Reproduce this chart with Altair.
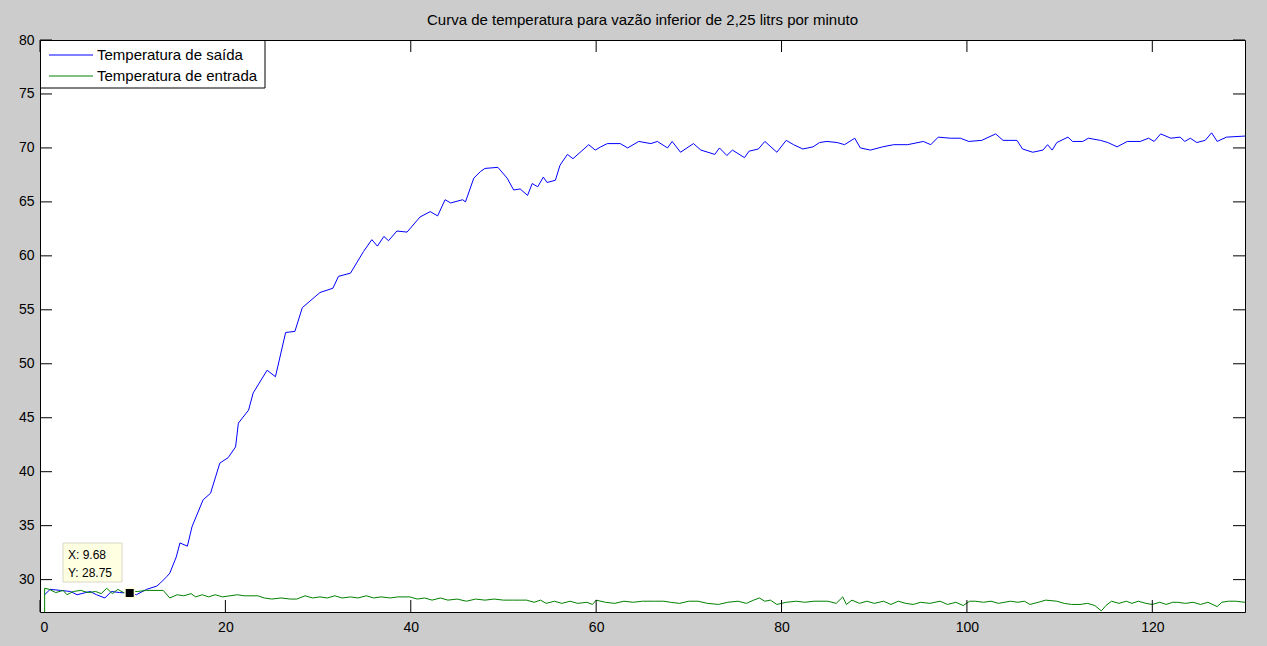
import altair as alt
import pandas as pd

# ---- text ----
title_text = "Curva de temperatura para vazão inferior de 2,25 litrs por minuto"
series_names = ["Temperatura de saída", "Temperatura de entrada"]
series_colors = ["#0000ff", "#008000"]

# ---- outlet temperature (time, value) ----
saida_t = [0.5, 1.1, 2.2, 3.3, 4.0, 5.4, 6.1, 7.0, 7.7, 8.6, 9.68, 10.4, 11.5, 12.6, 13.0,
           13.7, 14.0, 14.7, 15.1, 15.9, 16.4, 17.6, 18.4, 19.4, 20.3, 21.1, 21.4, 22.5, 23.0,
           24.5, 25.4, 26.5, 27.5, 28.3, 30.2, 31.6, 32.2, 33.5, 34.9, 35.8, 36.4, 37.1, 37.6,
           38.5, 39.6, 41.0, 42.1, 42.9, 43.7, 44.3, 45.6, 45.9, 46.8, 47.5, 48.0, 49.4, 50.4,
           51.1, 51.8, 52.6, 53.1, 53.7, 54.3, 54.7, 55.6, 56.1, 56.9, 57.5, 59.2, 59.9, 60.5,
           61.2, 62.6, 63.4, 64.6, 65.9, 66.6, 67.7, 68.2, 69.1, 70.5, 71.3, 72.8, 73.3, 74.1,
           74.7, 76.0, 76.5, 77.5, 78.2, 79.5, 80.5, 81.3, 82.3, 83.4, 84.1, 84.9, 86.0, 86.8,
           87.9, 88.5, 89.6, 90.9, 92.1, 93.6, 95.3, 96.1, 96.9, 98.2, 99.3, 100.2, 101.6, 103.1,
           103.9, 105.4, 106.0, 107.1, 108.2, 108.7, 109.2, 109.7, 110.9, 111.4, 112.5, 113.1,
           114.4, 115.2, 116.2, 117.3, 118.7, 119.6, 120.2, 120.9, 122.0, 123.0, 123.5, 124.1,
           124.8, 125.7, 126.4, 127.0, 128.0, 130.0]
saida_v = [28.6, 29.1, 29.0, 28.9, 28.6, 28.9, 28.6, 28.3, 28.9, 28.8, 28.75, 28.6, 29.1, 29.4, 29.7,
           30.3, 30.6, 32.1, 33.4, 33.1, 34.9, 37.4, 38.0, 40.8, 41.3, 42.3, 44.5, 45.7, 47.3,
           49.4, 48.8, 52.9, 53.0, 55.2, 56.6, 57.0, 58.1, 58.4, 60.4, 61.5, 60.9, 61.8, 61.4,
           62.3, 62.2, 63.6, 64.1, 63.7, 65.2, 64.9, 65.2, 65.0, 67.2, 67.8, 68.1, 68.2, 67.2,
           66.1, 66.2, 65.6, 66.7, 66.4, 67.3, 66.8, 67.0, 68.4, 69.4, 69.0, 70.3, 69.8, 70.1,
           70.4, 70.4, 70.0, 70.6, 70.4, 70.6, 70.0, 70.6, 69.6, 70.4, 69.8, 69.4, 70.0, 69.3,
           69.8, 69.1, 69.7, 69.9, 70.6, 69.6, 70.7, 70.3, 69.9, 70.1, 70.5, 70.6, 70.5, 70.3,
           70.9, 70.0, 69.8, 70.1, 70.3, 70.3, 70.6, 70.3, 71.0, 70.9, 70.9, 70.6, 70.7, 71.3,
           70.7, 70.7, 69.9, 69.6, 69.8, 70.3, 69.8, 70.5, 71.0, 70.6, 70.6, 70.9,
           70.7, 70.5, 70.1, 70.6, 70.6, 70.9, 70.6, 71.3, 70.9, 71.0, 70.6, 70.9,
           70.5, 70.7, 71.4, 70.6, 71.0, 71.1]

# ---- inlet temperature (time, value) ----
entrada_t = [0.5, 0.5, 1.0, 1.7, 2.5, 2.9, 3.6, 4.4, 5.2, 6.0, 6.6, 7.2, 7.8, 8.4, 9.0, 9.68,
             10.5, 11.5, 13.3, 14.0, 14.8, 15.5, 16.3, 16.8, 17.5, 18.2, 18.9, 19.7, 20.5, 21.3,
             22.0, 23.5, 24.2, 25.0, 26.0, 27.0, 27.7, 28.6, 29.4, 30.2, 31.0, 31.8, 32.6, 33.5,
             34.3, 35.2, 36.0, 36.8, 37.8, 38.6, 39.9, 40.7, 41.5, 42.3, 43.2, 44.0, 45.0, 46.0,
             47.0, 48.0, 49.0, 50.0, 51.0, 52.5, 53.3, 54.0, 54.6, 55.5, 56.3, 57.2, 58.0, 59.0,
             59.6, 60.0, 61.0, 62.0, 63.0, 64.0, 65.0, 66.3, 67.3, 68.0, 69.0, 70.0, 71.0, 72.0,
             73.2, 74.2, 75.3, 76.2, 77.0, 77.6, 78.2, 78.8, 79.5, 80.5, 81.6, 82.5, 83.5, 85.0,
             85.9, 86.6, 87.0, 87.6, 88.4, 89.2, 90.0, 91.0, 91.8, 92.6, 93.4, 94.2, 95.0, 96.0,
             97.1, 97.9, 98.8, 99.6, 100.3, 100.9, 101.8, 102.6, 103.4, 104.7, 105.5, 106.2,
             106.8, 107.7, 108.5, 109.7, 110.5, 111.3, 112.2, 113.0, 113.8, 114.5, 115.0, 115.6,
             116.4, 117.2, 117.8, 118.5, 119.3, 120.0, 120.8, 121.5, 122.2, 122.7, 123.6, 124.4,
             125.2, 126.0, 127.0, 127.5, 128.2, 129.0, 130.0]
entrada_v = [27.0, 29.2, 29.1, 28.8, 29.0, 28.6, 28.9, 29.0, 28.8, 28.9, 28.7, 29.2, 28.7, 29.1, 28.8, 28.9,
             28.9, 29.0, 29.0, 28.3, 28.6, 28.5, 28.7, 28.4, 28.6, 28.4, 28.6, 28.4, 28.5, 28.6,
             28.5, 28.5, 28.3, 28.2, 28.3, 28.2, 28.2, 28.5, 28.3, 28.4, 28.3, 28.5, 28.3, 28.4,
             28.3, 28.5, 28.3, 28.4, 28.3, 28.4, 28.4, 28.2, 28.3, 28.1, 28.3, 28.1, 28.2, 28.0,
             28.2, 28.1, 28.2, 28.1, 28.1, 28.1, 27.9, 28.1, 27.8, 28.0, 27.8, 28.0, 27.8, 27.9,
             27.7, 28.1, 27.9, 27.8, 28.0, 27.9, 28.0, 28.0, 28.0, 27.9, 27.8, 28.0, 28.0, 27.8,
             27.7, 27.9, 28.0, 27.8, 28.1, 28.3, 28.0, 28.1, 27.7, 27.9, 28.0, 27.9, 28.0, 28.0,
             27.8, 28.4, 27.7, 28.1, 27.8, 28.0, 27.8, 28.0, 27.7, 28.0, 27.8, 27.7, 27.9, 27.8,
             28.0, 27.7, 27.9, 27.6, 28.0, 28.0, 27.9, 28.0, 27.8, 28.0, 27.9, 28.0,
             27.7, 27.9, 28.1, 28.0, 27.8, 27.7, 27.7, 27.8, 27.6, 27.1, 27.6, 28.0,
             27.8, 28.0, 27.8, 28.0, 27.8, 27.7, 27.9, 27.7, 27.9, 27.9, 27.8, 27.9,
             27.7, 27.9, 27.5, 27.9, 28.0, 28.0, 27.9]

# ---- axes ----
x_domain = [0, 130]
y_domain = [27, 80]
x_ticks = [0, 20, 40, 60, 80, 100, 120]
y_ticks = [30, 35, 40, 45, 50, 55, 60, 65, 70, 75, 80]

# ---- data cursor ----
cursor_x = [9.68]
cursor_y = [28.75]

W, H = 1205, 572
TICK = 12
FONT = "Liberation Sans"

lines_df = pd.concat([
    pd.DataFrame({"t": saida_t, "temp": saida_v, "serie": series_names[0],
                  "idx": range(len(saida_t))}),
    pd.DataFrame({"t": entrada_t, "temp": entrada_v, "serie": series_names[1],
                  "idx": range(len(entrada_t))}),
], ignore_index=True)

xs = alt.Scale(domain=x_domain, nice=False, zero=False)
ys = alt.Scale(domain=y_domain, nice=False, zero=False)
x_axis = alt.Axis(values=x_ticks, ticks=False, domain=False, grid=False, title=None,
                  labelPadding=8, labelFontSize=14, labelFont=FONT,
                  labelColor="#000000", format="d")
y_axis = alt.Axis(values=y_ticks, ticks=False, domain=False, grid=False, title=None,
                  labelPadding=6, labelFontSize=14, labelFont=FONT,
                  labelColor="#000000", format="d")
X = lambda f: alt.X(f, scale=xs, axis=x_axis)
Y = lambda f: alt.Y(f, scale=ys, axis=y_axis)

lines = alt.Chart(lines_df).mark_line(strokeWidth=1, clip=True).encode(
    x=X("t:Q"),
    y=Y("temp:Q"),
    color=alt.Color("serie:N", scale=alt.Scale(domain=series_names, range=series_colors),
                    legend=None),
    detail="serie:N",
    order="idx:Q",
)

# inward tick marks on all four sides
xt = pd.DataFrame({"t": x_ticks})
yt = pd.DataFrame({"temp": y_ticks})
tick_style = dict(color="#000000", strokeWidth=1)
x_bottom = alt.Chart(xt).mark_rule(**tick_style).encode(
    x=X("t:Q"), y=alt.value(H), y2=alt.value(H - TICK))
x_top = alt.Chart(xt).mark_rule(**tick_style).encode(
    x=X("t:Q"), y=alt.value(0), y2=alt.value(TICK))
y_left = alt.Chart(yt).mark_rule(**tick_style).encode(
    y=Y("temp:Q"), x=alt.value(0), x2=alt.value(TICK))
y_right = alt.Chart(yt).mark_rule(**tick_style).encode(
    y=Y("temp:Q"), x=alt.value(W - TICK), x2=alt.value(W))

# legend box
leg_df = pd.DataFrame({"serie": series_names, "color": series_colors})
legend_box = alt.Chart(leg_df.head(1)).mark_rect(
    fill="#ffffff", stroke="#000000", strokeWidth=1).encode(
    x=alt.value(0.5), x2=alt.value(225), y=alt.value(0.5), y2=alt.value(48))
legend_layers = [legend_box]
for i, name in enumerate(series_names):
    row = leg_df.iloc[[i]]
    yy = 15 + 21 * i
    legend_layers.append(
        alt.Chart(row).mark_rule(strokeWidth=1, color=series_colors[i]).encode(
            x=alt.value(9), x2=alt.value(53), y=alt.value(yy)))
    legend_layers.append(
        alt.Chart(row).mark_text(align="left", baseline="middle", fontSize=15,
                                 font=FONT, color="#000000").encode(
            text="serie:N", x=alt.value(57), y=alt.value(yy)))

# data cursor: marker and tip box
cur_df = pd.DataFrame({"t": cursor_x, "temp": cursor_y})
cur_df["lx"] = ["X: " + f"{v:.2f}" for v in cursor_x]
cur_df["ly"] = ["Y: " + f"{v:.2f}" for v in cursor_y]
tip_box = alt.Chart(cur_df).mark_rect(fill="#ffffe1", stroke="#d8d8c8", strokeWidth=1).encode(
    x=alt.value(23), x2=alt.value(82), y=alt.value(503), y2=alt.value(542))
tip_x = alt.Chart(cur_df).mark_text(align="left", baseline="middle", fontSize=12,
                                    font=FONT, color="#000000").encode(
    text="lx:N", x=alt.value(28), y=alt.value(515))
tip_y = alt.Chart(cur_df).mark_text(align="left", baseline="middle", fontSize=12,
                                    font=FONT, color="#000000").encode(
    text="ly:N", x=alt.value(28), y=alt.value(533))
marker = alt.Chart(cur_df).mark_square(size=90, fill="#000000", stroke="#ffffe1",
                                       strokeWidth=1.5, opacity=1).encode(
    x=X("t:Q"), y=Y("temp:Q"))

chart = alt.layer(
    lines, x_bottom, x_top, y_left, y_right, *legend_layers, tip_box, tip_x, tip_y, marker
).properties(
    width=W, height=H,
    title=alt.TitleParams(title_text, fontSize=15, font=FONT, fontWeight="normal",
                          color="#000000", anchor="middle", baseline="middle",
                          frame="group", offset=0, dy=2),
    autosize=alt.AutoSizeParams(type="none"),
    padding={"left": 40, "top": 40, "right": 22, "bottom": 34},
    background="#cccccc",
).configure_view(
    fill="#ffffff", stroke="#000000", strokeWidth=1
)

chart.save("out.html", embed_options={"renderer": "svg", "actions": False})
